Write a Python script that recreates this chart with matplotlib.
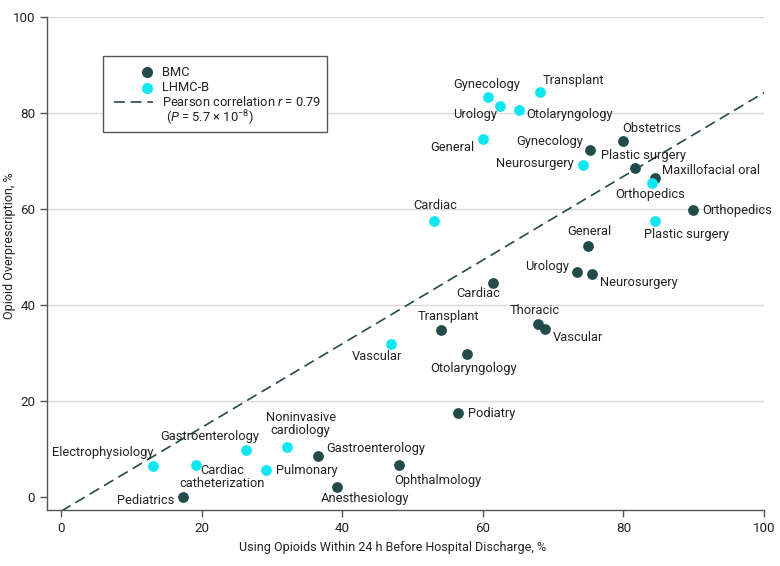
import matplotlib
matplotlib.use("Agg")
import matplotlib.pyplot as plt
from matplotlib.patches import Rectangle
from matplotlib.lines import Line2D

plt.rcParams['font.family'] = ['Roboto', 'DejaVu Sans']
plt.rcParams['mathtext.fontset'] = 'custom'
plt.rcParams['mathtext.rm'] = 'Roboto'
plt.rcParams['mathtext.it'] = 'Roboto:italic'

# ---------------- data ----------------
bmc_names = ["Pediatrics", "Anesthesiology", "Gastroenterology", "Ophthalmology", "Podiatry",
             "Otolaryngology", "Transplant", "Thoracic", "Vascular", "Cardiac", "Urology",
             "Neurosurgery", "General", "Orthopedics", "Maxillofacial oral", "Plastic surgery",
             "Gynecology", "Obstetrics"]
bmc_x = [17.4, 39.3, 36.6, 48.1, 56.5, 57.7, 54.0, 67.9, 68.9, 61.5, 73.4, 75.5, 74.9, 89.9,
         84.5, 81.7, 75.3, 80.0]
bmc_y = [0.0, 2.1, 8.6, 6.6, 17.5, 29.8, 34.9, 36.1, 35.0, 44.6, 46.9, 46.5, 52.2, 59.7,
         66.5, 68.6, 72.2, 74.2]

lhmc_names = ["Electrophysiology", "Cardiac\ncatheterization", "Gastroenterology", "Pulmonary",
              "Noninvasive\ncardiology", "Vascular", "Cardiac", "Plastic surgery", "Orthopedics",
              "Neurosurgery", "General", "Gynecology", "Urology", "Otolaryngology", "Transplant"]
lhmc_x = [13.1, 19.2, 26.3, 29.1, 32.1, 46.9, 53.1, 84.5, 84.0, 74.3, 60.0, 60.8, 62.4, 65.1, 68.1]
lhmc_y = [6.5, 6.7, 9.7, 5.6, 10.5, 31.9, 57.6, 57.6, 65.5, 69.2, 74.6, 83.3, 81.5, 80.7, 84.3]

fit_slope = 0.872
fit_intercept = -2.96
x_ticks = [0, 20, 40, 60, 80, 100]
y_ticks = [0, 20, 40, 60, 80, 100]

# label placement (pixel offsets, alignment)
bmc_lab = [(-9, -3, 'right'), (28, -12, 'center'), (8, 7, 'left'), (39, -15, 'center'),
           (10, 0, 'left'), (7, -15, 'center'), (8, 13, 'center'), (-4, 13, 'center'),
           (7, -8, 'left'), (-15, -11, 'center'), (-8, 5, 'right'), (8, -9, 'left'),
           (2, 15, 'center'), (9, 0, 'left'), (7, 7, 'left'), (8, 12, 'center'),
           (-7, 9, 'right'), (28, 12, 'center')]
lhmc_lab = [(0, 13, 'right'), (26, -12.5, 'center'), (-36, 14, 'center'), (10, 0, 'left'),
            (14, 23, 'center'), (-14, -13, 'center'), (1, 15, 'center'), (31, -14, 'center'),
            (-1, -12, 'center'), (-10, 1, 'right'), (-8, -9, 'right'), (-2, 13, 'center'),
            (-3, -9, 'right'), (8, -5, 'left'), (3, 12, 'left')]

DARK = '#234b4b'
CYAN = '#0fe6f0'
TXT = '#222222'
FS = 9.3

fig = plt.figure(figsize=(7.8, 5.66), dpi=100)
W, H = 780, 566
L, R, T, B = 47, 764, 17, 510
ax = fig.add_axes([L / W, 1 - B / H, (R - L) / W, (B - T) / H])
ax.set_xlim(-2.0, 100)
ax.set_ylim(-2.7, 100)

for s in ['top', 'right']:
    ax.spines[s].set_visible(False)
for s in ['left', 'bottom']:
    ax.spines[s].set_color('#555555')
    ax.spines[s].set_linewidth(1.0)

ax.set_xticks(x_ticks)
ax.set_yticks(y_ticks)
ax.tick_params(direction='out', length=5, width=1, color='#555555', labelsize=FS + 0.3,
               labelcolor=TXT)
for yv in y_ticks[1:]:
    ax.axhline(yv, color='#d9d9d9', lw=1.0, zorder=0)

# regression line
xl = [0, 100]
ax.plot(xl, [fit_intercept + fit_slope * v for v in xl], color=DARK, lw=1.2,
        dashes=(6.5, 3.5), zorder=2)

ax.scatter(bmc_x, bmc_y, s=60, color=DARK, zorder=3, linewidths=0)
ax.scatter(lhmc_x, lhmc_y, s=60, color=CYAN, zorder=3, linewidths=0)

for n, x, y, (dx, dy, ha) in zip(bmc_names, bmc_x, bmc_y, bmc_lab):
    ax.annotate(n, (x, y), xytext=(dx, dy), textcoords='offset pixels', ha=ha, va='center',
                fontsize=FS, color=TXT, zorder=4)
for n, x, y, (dx, dy, ha) in zip(lhmc_names, lhmc_x, lhmc_y, lhmc_lab):
    ax.annotate(n, (x, y), xytext=(dx, dy), textcoords='offset pixels', ha=ha, va='center',
                fontsize=FS, color=TXT, zorder=4, multialignment='center', linespacing=1.0)

fig.text(392.8 / W, 1 - 547 / H, "Using Opioids Within 24 h Before Hospital Discharge, %",
         ha='center', va='center', fontsize=9.0, color=TXT)
fig.text(10 / W, 1 - 245.7 / H, "Opioid Overprescription, %", rotation=90,
         ha='center', va='center', fontsize=9.0, color=TXT)

# legend (manual)
def fx(px):
    return px / W
def fy(py):
    return 1 - py / H

fig.patches.append(Rectangle((fx(103), fy(132)), fx(327) - fx(103), fy(56) - fy(132),
                             transform=fig.transFigure, facecolor='white', edgecolor='#555555',
                             lw=1.0, zorder=5))
fig.lines.append(Line2D([fx(147)], [fy(72)], marker='o', ms=8, color=DARK, mew=0,
                        transform=fig.transFigure, zorder=6))
fig.lines.append(Line2D([fx(147)], [fy(88)], marker='o', ms=8, color=CYAN, mew=0,
                        transform=fig.transFigure, zorder=6))
fig.lines.append(Line2D([fx(114), fx(153)], [fy(102), fy(102)], color=DARK, lw=1.2,
                        dashes=(6.5, 3.5), transform=fig.transFigure, zorder=6))
fig.text(fx(161.7), fy(72), "BMC", ha='left', va='center', fontsize=FS, color=TXT, zorder=7)
fig.text(fx(161.7), fy(87.5), "LHMC-B", ha='left', va='center', fontsize=FS, color=TXT, zorder=7)
fig.text(fx(161.7), fy(102.5), "Pearson correlation $r$ = 0.79", ha='left', va='center',
         fontsize=FS, color=TXT, zorder=7)
fig.text(fx(166), fy(118), "($P$ = 5.7 × 10$^{-8}$)", ha='left', va='center',
         fontsize=FS, color=TXT, zorder=7)

fig.savefig("out.png", dpi=100)
